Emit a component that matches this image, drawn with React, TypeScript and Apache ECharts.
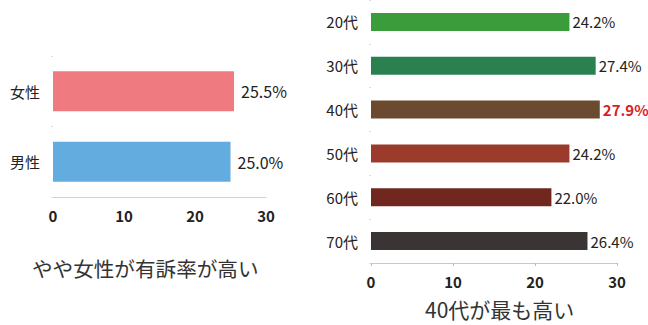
import React, { useEffect, useRef } from "react";
import * as echarts from "echarts";

const genderCats = ["女性", "男性"];
const genderValues = [25.5, 25.0];
const genderColors = ["#ef7b80", "#62acdf"];

const ageCats = ["20代", "30代", "40代", "50代", "60代", "70代"];
const ageValues = [24.2, 27.4, 27.9, 24.2, 22.0, 26.4];
const ageColors = ["#3b9c3b", "#2b8050", "#6b4a2f", "#9b3b2c", "#6f2720", "#3a3434"];
const highlightIndex = 2;

const ticks = [0, 10, 20, 30];
const leftTitle = "やや女性が有訴率が高い";
const rightTitle = "40代が最も高い";

const FONT = "'Noto Sans CJK JP', 'Noto Sans', sans-serif";

export default function App() {
  const ref = useRef<HTMLDivElement>(null);
  useEffect(() => {
    if (!ref.current) return;
    const chart = echarts.init(ref.current, undefined, { renderer: "svg" });
    const valueAxis = (gridIndex: number, dashed: boolean) => ({
      type: "value",
      gridIndex,
      min: ticks[0],
      max: ticks[ticks.length - 1],
      interval: 10,
      axisLine: { show: true, lineStyle: { color: "#c8c8c8", width: 1, type: dashed ? "dotted" : "solid" } },
      axisTick: { show: !dashed, length: 3, lineStyle: { color: "#bbb" } },
      splitLine: { show: false },
      axisLabel: { color: "#222", fontSize: 15, fontWeight: "bold", fontFamily: FONT, margin: 11 },
    });
    const catAxis = (gridIndex: number, data: string[]) => ({
      type: "category",
      gridIndex,
      data,
      inverse: true,
      axisLine: { show: false },
      axisTick: { show: true, length: 2, lineStyle: { color: "#e0e0e0" } },
      axisLabel: { color: "#222", fontSize: 15, fontFamily: FONT, margin: 13 },
    });
    chart.setOption({
      animation: false,
      backgroundColor: "#ffffff",
      grid: [
        { left: 53, width: 213, top: 56, height: 141 },
        { left: 371, width: 246, top: -2, height: 265 },
      ],
      xAxis: [valueAxis(0, true), valueAxis(1, false)],
      yAxis: [catAxis(0, genderCats), catAxis(1, ageCats)],
      series: [
        {
          type: "bar",
          xAxisIndex: 0,
          yAxisIndex: 0,
          barWidth: 40,
          data: genderValues.map((v, i) => ({ value: v, itemStyle: { color: genderColors[i] } })),
          label: {
            show: true,
            position: "right",
            distance: 7,
            color: "#222",
            fontSize: 16,
            fontFamily: FONT,
            formatter: (p: any) => p.value.toFixed(1) + "%",
          },
        },
        {
          type: "bar",
          xAxisIndex: 1,
          yAxisIndex: 1,
          barWidth: 18,
          data: ageValues.map((v, i) => ({
            value: v,
            itemStyle: { color: ageColors[i] },
            label:
              i === highlightIndex
                ? { color: "#d81f2a", fontWeight: "bold" }
                : undefined,
          })),
          label: {
            show: true,
            position: "right",
            distance: 3,
            color: "#222",
            fontSize: 15,
            fontFamily: FONT,
            formatter: (p: any) => p.value.toFixed(1) + "%",
          },
        },
      ],
      graphic: [
        {
          type: "text",
          left: 32,
          top: 258,
          style: { text: leftTitle, fontSize: 20.6, fill: "#333", fontFamily: FONT },
        },
        {
          type: "text",
          left: 425,
          top: 298,
          style: { text: rightTitle, fontSize: 21, fill: "#333", fontFamily: FONT },
        },
      ],
    });
    return () => chart.dispose();
  }, []);
  return (
    <div
      ref={ref}
      style={{ position: "absolute", left: 0, top: 0, width: 648, height: 325 }}
    />
  );
}
